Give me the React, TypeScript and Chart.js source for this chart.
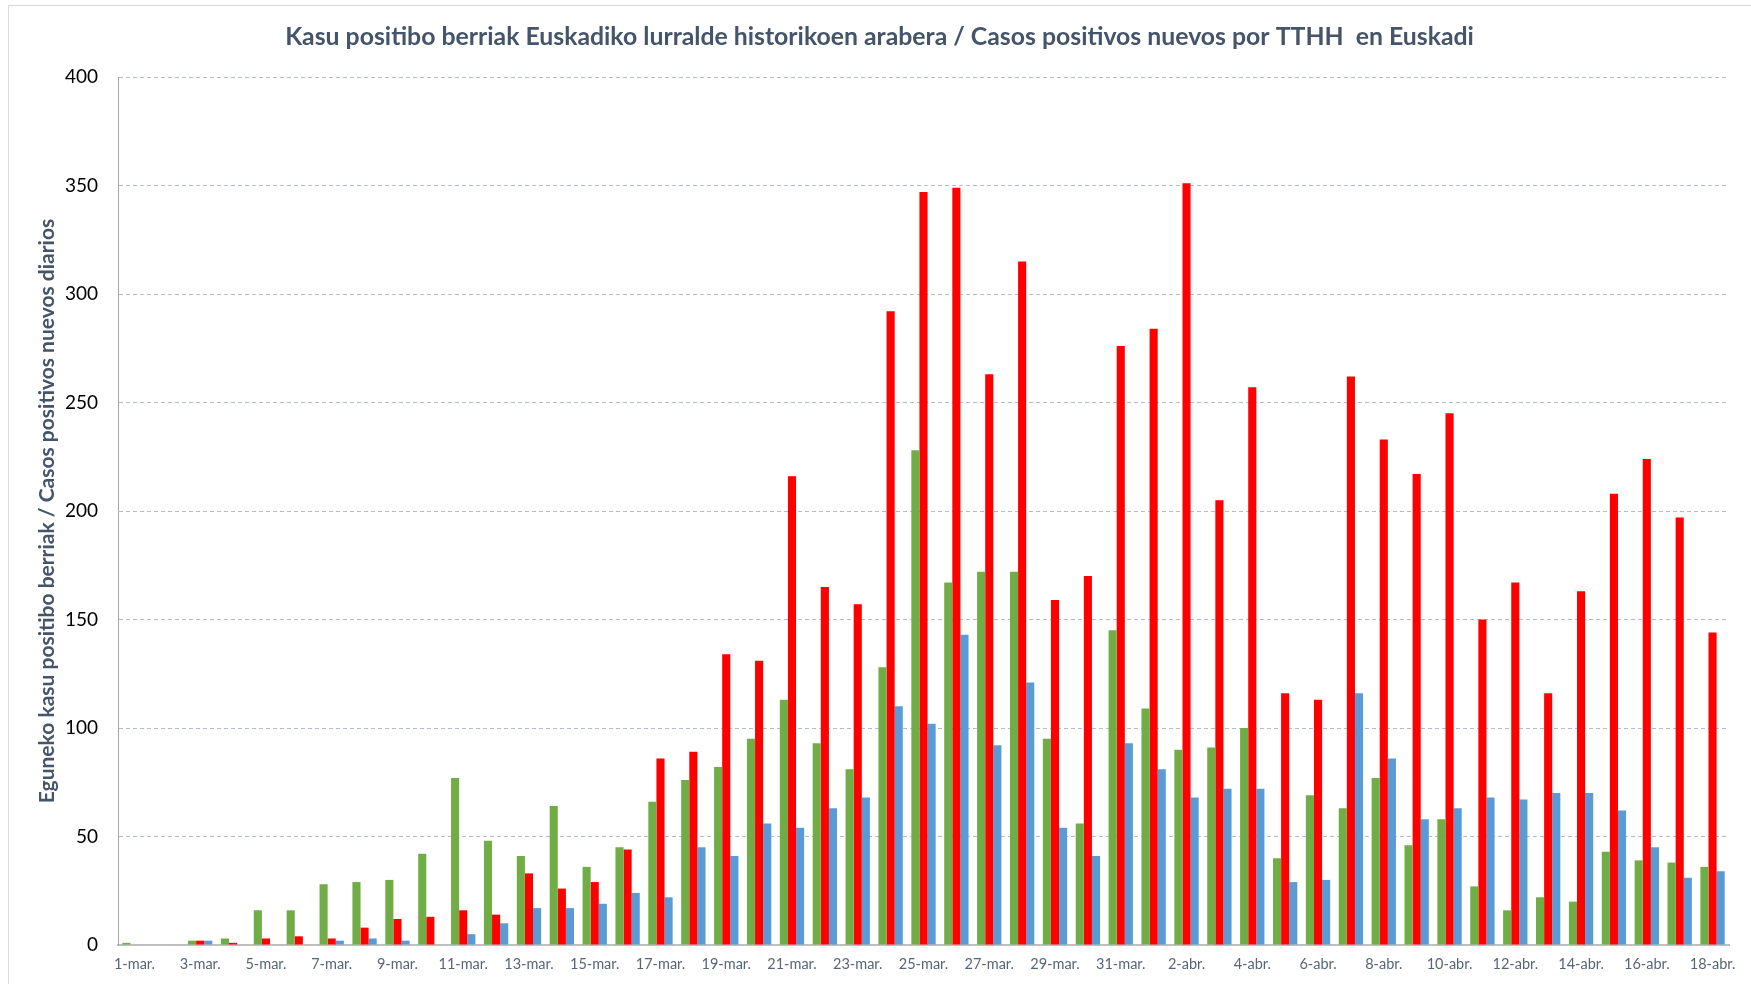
import React, { useEffect, useRef } from "react";
import { Chart, registerables } from "chart.js";

Chart.register(...registerables);

const chartTitle =
  "Kasu positibo berriak Euskadiko lurralde historikoen arabera / Casos positivos nuevos por TTHH  en Euskadi";
const yAxisTitle = "Eguneko kasu positibo berriak / Casos positivos nuevos diarios";

const categories = [
  "1-mar.", "2-mar.", "3-mar.", "4-mar.", "5-mar.", "6-mar.", "7-mar.", "8-mar.", "9-mar.", "10-mar.",
  "11-mar.", "12-mar.", "13-mar.", "14-mar.", "15-mar.", "16-mar.", "17-mar.", "18-mar.", "19-mar.", "20-mar.",
  "21-mar.", "22-mar.", "23-mar.", "24-mar.", "25-mar.", "26-mar.", "27-mar.", "28-mar.", "29-mar.", "30-mar.",
  "31-mar.", "1-abr.", "2-abr.", "3-abr.", "4-abr.", "5-abr.", "6-abr.", "7-abr.", "8-abr.", "9-abr.",
  "10-abr.", "11-abr.", "12-abr.", "13-abr.", "14-abr.", "15-abr.", "16-abr.", "17-abr.", "18-abr.",
];

const arabaValues = [
  1, 0, 2, 3, 16, 16, 28, 29, 30, 42, 77, 48, 41, 64, 36, 45, 66, 76, 82, 95, 113, 93, 81, 128, 228, 167, 172, 172,
  95, 56, 145, 109, 90, 91, 100, 40, 69, 63, 77, 46, 58, 27, 16, 22, 20, 43, 39, 38, 36,
];

const bizkaiaValues = [
  0, 0, 2, 1, 3, 4, 3, 8, 12, 13, 16, 14, 33, 26, 29, 44, 86, 89, 134, 131, 216, 165, 157, 292, 347, 349, 263, 315,
  159, 170, 276, 284, 351, 205, 257, 116, 113, 262, 233, 217, 245, 150, 167, 116, 163, 208, 224, 197, 144,
];

const gipuzkoaValues = [
  0, 0, 2, 0, 0, 0, 2, 3, 2, 0, 5, 10, 17, 17, 19, 24, 22, 45, 41, 56, 54, 63, 68, 110, 102, 143, 92, 121, 54, 41,
  93, 81, 68, 72, 72, 29, 30, 116, 86, 58, 63, 68, 67, 70, 70, 62, 45, 31, 34,
];

const yTicks = [0, 50, 100, 150, 200, 250, 300, 350, 400];

const FONT = "Lato, 'Open Sans', 'DejaVu Sans', sans-serif";

const titlePlugin = {
  id: "centeredTitle",
  afterDraw(chart: any) {
    const ctx = chart.ctx;
    ctx.save();
    ctx.font = `bold 24.8px ${FONT}`;
    ctx.fillStyle = "#44546a";
    ctx.textAlign = "center";
    ctx.textBaseline = "middle";
    ctx.fillText(chartTitle, chart.width / 2 + 4, 37);
    ctx.restore();
  },
};

export default function App() {
  const canvasRef = useRef<HTMLCanvasElement | null>(null);

  useEffect(() => {
    const canvas = canvasRef.current;
    if (!canvas) return;
    const chart = new Chart(canvas, {
      type: "bar",
      data: {
        labels: categories,
        datasets: [
          { label: "Araba", data: arabaValues, backgroundColor: "#70ad47", categoryPercentage: 0.74, barPercentage: 1 },
          { label: "Bizkaia", data: bizkaiaValues, backgroundColor: "#ff0000", categoryPercentage: 0.74, barPercentage: 1 },
          { label: "Gipuzkoa", data: gipuzkoaValues, backgroundColor: "#5b9bd5", categoryPercentage: 0.74, barPercentage: 1 },
        ],
      },
      plugins: [titlePlugin],
      options: {
        responsive: false,
        animation: false,
        layout: { padding: { left: 0, right: 22, top: 77, bottom: 0 } },
        plugins: {
          legend: { display: false },
          tooltip: { enabled: false },
          title: { display: false },
        },
        scales: {
          x: {
            grid: { display: false },
            border: { display: true, color: "#bfbfbf", width: 2 },
            ticks: {
              autoSkip: false,
              maxRotation: 0,
              minRotation: 0,
              padding: 3,
              color: "#586579",
              font: { family: FONT, size: 14.5 },
              callback: (_v: any, i: number) => (i % 2 === 0 ? categories[i] : ""),
            },
            afterFit: (s: any) => {
              s.height = 39;
            },
          },
          y: {
            min: 0,
            max: 400,
            afterBuildTicks: (s: any) => {
              s.ticks = yTicks.map((v) => ({ value: v }));
            },
            grid: {
              color: (c: any) => (c.tick && c.tick.value === 0 ? "#bfbfbf" : "#b4bccb"),
              lineWidth: 1,
              drawTicks: false,
            },
            border: {
              display: true,
              color: "#a6a6a6",
              width: 1,
              dash: (c: any) => (c.tick && c.tick.value === 0 ? [] : [4, 3]),
            },
            ticks: {
              padding: 20,
              color: "#000000",
              font: { family: FONT, size: 19 },
            },
            title: {
              display: true,
              text: yAxisTitle,
              color: "#44546a",
              font: { family: FONT, size: 21, weight: "bold", lineHeight: 1.2 },
              padding: { top: 35, bottom: 0 },
            },
            afterFit: (s: any) => {
              s.width = 118;
            },
          },
        },
      },
    });
    return () => chart.destroy();
  }, []);

  return (
    <div style={{ position: "fixed", left: 0, top: 0, width: 1751, height: 984, overflow: "hidden", background: "#ffffff" }}>
      <div
        style={{
          position: "absolute",
          left: 8,
          top: 5,
          width: 1900,
          height: 1100,
          border: "1px solid #d9d9d9",
          boxSizing: "border-box",
        }}
      />
      <canvas ref={canvasRef} width={1751} height={984} style={{ position: "absolute", left: 0, top: 0, width: 1751, height: 984 }} />
    </div>
  );
}
